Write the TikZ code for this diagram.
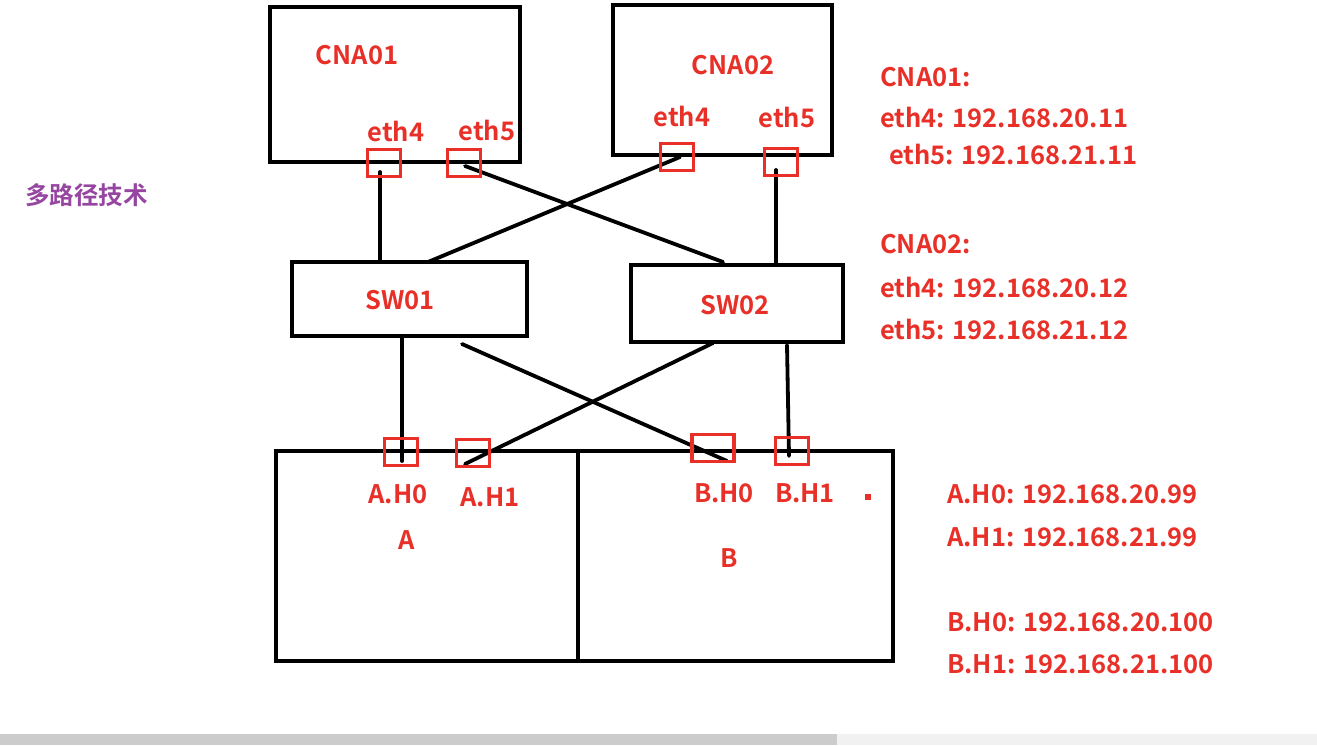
\documentclass[tikz,border=0pt]{standalone}
\usepackage{fontspec}
\setmainfont{Noto Sans CJK SC}[BoldFont={Noto Sans CJK SC Bold}]
\definecolor{lbl}{RGB}{232,48,40}
\definecolor{ttl}{RGB}{150,70,160}
\definecolor{sbar}{RGB}{204,204,204}
\definecolor{strack}{RGB}{241,241,241}
\tikzset{
  dev/.style={draw=black,line width=4.5pt},
  port/.style={draw=lbl,line width=3.4pt,minimum width=#1,minimum height=27pt,inner sep=0pt},
  port/.default=33pt,
  wire/.style={draw=black,line width=3.8pt,line cap=round},
  lab/.style={text=lbl,font=\fontsize{25.5}{28}\selectfont\bfseries,inner sep=0pt},
  info/.style={lab,anchor=west},
}
\begin{document}
\begin{tikzpicture}[x=1pt,y=-1pt]
\useasboundingbox (0,0) rectangle (1317,745);
\fill[white] (0,0) rectangle (1317,745);
% scrollbar
\fill[strack] (0,734) rectangle (1317,745);
\fill[sbar] (0,734) rectangle (837,745);

% title
\node[text=ttl,font=\fontsize{24.5}{27}\selectfont\bfseries,anchor=west,inner sep=0pt] (title) at (25,195) {多路径技术};

% devices
\draw[dev] (270,7) rectangle (520,162);
\node[lab] (cna1) at (357,55) {CNA01};
\draw[dev] (613,5) rectangle (832,155);
\node[lab] (cna2) at (733,65) {CNA02};
\draw[dev] (292,262) rectangle (527,336);
\node[lab] (sw1) at (400,300) {SW01};
\draw[dev] (631,265) rectangle (843,342);
\node[lab] (sw2) at (735,305) {SW02};
\draw[dev] (276,451) rectangle (893,661);
\draw[black,line width=3.8pt] (578,451) -- (578,662);
\node[lab] (na) at (407,540) {A};
\node[lab] (nb) at (729,558) {B};

% port labels
\node[lab] (l1e4) at (396,131) {eth4};
\node[lab] (l1e5) at (487,130) {eth5};
\node[lab] (l2e4) at (682,116) {eth4};
\node[lab] (l2e5) at (787,117) {eth5};
\node[lab] (lah0) at (398,494) {A.H0};
\node[lab] (lah1) at (490,497) {A.H1};
\node[lab] (lbh0) at (724,493) {B.H0};
\node[lab] (lbh1) at (805,493) {B.H1};
\fill[lbl] (865,494) rectangle (871,500);

% anchor coordinates on devices
\coordinate (s1t1) at (380,262);
\coordinate (s1t2) at (428,262);
\coordinate (s2t1) at (723,262);
\coordinate (s2t2) at (776,265);
\coordinate (s1b1) at (402,336);
\coordinate (s1b2) at (462,344);
\coordinate (s2b1) at (713,343);
\coordinate (s2b2) at (787,345);
\coordinate (ah0) at (402,461);
\coordinate (ah1) at (465,464);
\coordinate (bh0) at (727,461);
\coordinate (bh1) at (789,456);
\coordinate (c1e4) at (380,172);
\coordinate (c1e5) at (465,166);
\coordinate (c2e4) at (680,157);
\coordinate (c2e5) at (776,170);

% wires
\draw[wire] (c1e4) -- (s1t1);
\draw[wire] (c1e5) -- (s2t1);
\draw[wire] (c2e4) -- (s1t2);
\draw[wire] (c2e5) -- (s2t2);
\draw[wire] (s1b1) -- (ah0);
\draw[wire] (s1b2) -- (bh0);
\draw[wire] (s2b1) -- (ah1);
\draw[wire] (s2b2) -- (bh1);

% ports
\node[port] (p1e4) at (384,163) {};
\node[port] (p1e5) at (464,163) {};
\node[port] (p2e4) at (677,157) {};
\node[port] (p2e5) at (781,162) {};
\node[port] (pah0) at (401,452) {};
\node[port] (pah1) at (473,453) {};
\node[port=42pt] (pbh0) at (713,448) {};
\node[port] (pbh1) at (792,451) {};

% address list
\node[info] (i1) at (880,77) {CNA01:};
\node[info] (i2) at (880,117) {eth4: 192.168.20.11};
\node[info] (i3) at (889,154) {eth5: 192.168.21.11};
\node[info] (i4) at (880,244) {CNA02:};
\node[info] (i5) at (880,287) {eth4: 192.168.20.12};
\node[info] (i6) at (880,329) {eth5: 192.168.21.12};
\node[info] (i7) at (947,494) {A.H0: 192.168.20.99};
\node[info] (i8) at (947,537) {A.H1: 192.168.21.99};
\node[info] (i9) at (947,622) {B.H0: 192.168.20.100};
\node[info] (i10) at (947,664) {B.H1: 192.168.21.100};
\end{tikzpicture}
\end{document}
